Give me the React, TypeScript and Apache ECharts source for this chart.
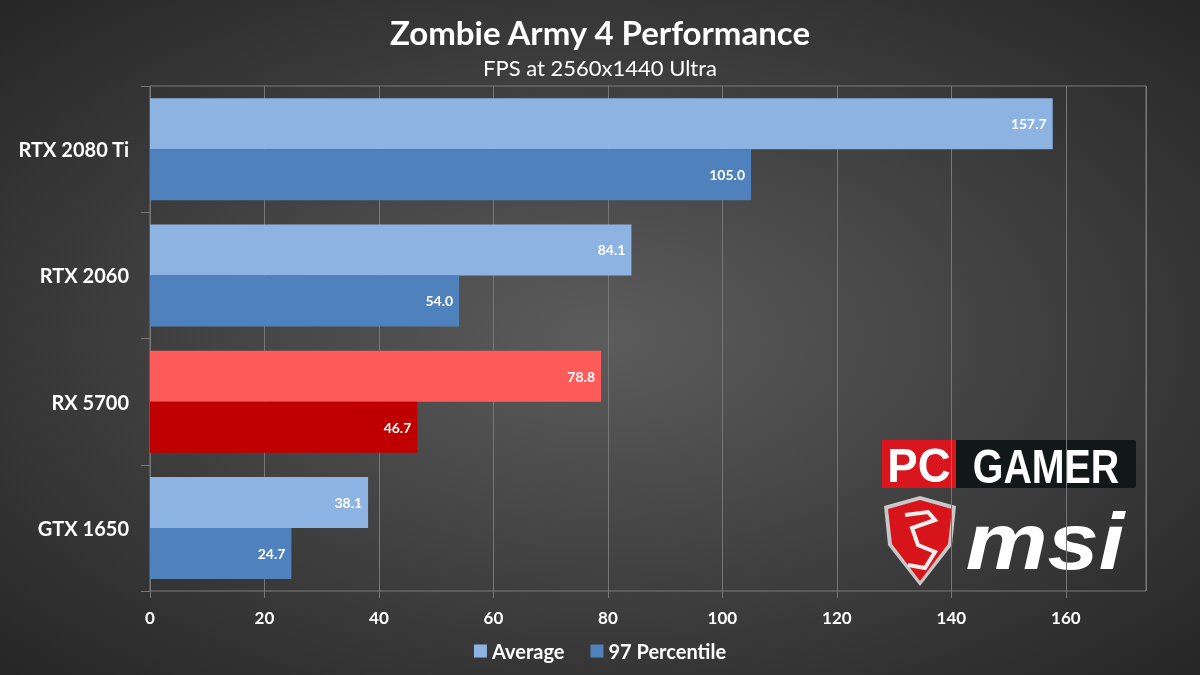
import React, { useEffect, useRef } from "react";
import * as echarts from "echarts";

const categories = ["RTX 2080 Ti", "RTX 2060", "RX 5700", "GTX 1650"];
const averageValues = [157.7, 84.1, 78.8, 38.1];
const percentileValues = [105.0, 54.0, 46.7, 24.7];
const highlightCategory = "RX 5700";
const xTicks = { min: 0, max: 174, interval: 20 };

export default function App() {
  const ref = useRef<HTMLDivElement>(null);
  useEffect(() => {
    const chart = echarts.init(ref.current!, null, { renderer: "svg" });
    const font = "Lato, 'Open Sans', sans-serif";
    const mk = (vals: number[], normal: string, hi: string) =>
      vals.map((v, i) => ({
        value: v,
        itemStyle: { color: categories[i] === highlightCategory ? hi : normal },
      }));
    const label = {
      show: true,
      position: "insideRight",
      color: "#fff",
      fontWeight: "bold",
      fontSize: 14,
      fontFamily: font,
      formatter: (p: any) => p.value.toFixed(1),
      distance: 6,
    };
    chart.setOption({
      animation: false,
      backgroundColor: "transparent",
      textStyle: { fontFamily: font },
      title: [
        { text: "Zombie Army 4 Performance", left: "center", top: 10, textStyle: { color: "#fff", fontSize: 33, fontWeight: "bold", fontFamily: font } },
        { text: "FPS at 2560x1440 Ultra", left: "center", top: 51, textStyle: { color: "#fff", fontSize: 22, fontWeight: "normal", fontFamily: font } },
      ],
      legend: {
        bottom: 9,
        left: "center",
        itemWidth: 13,
        itemHeight: 13,
        itemGap: 26,
        icon: "rect",
        textStyle: { color: "#fff", fontSize: 20, fontWeight: "bold", fontFamily: font },
        data: [
          { name: "Average", itemStyle: { color: "#8db3e2" } },
          { name: "97 Percentile", itemStyle: { color: "#4f81bd" } },
        ],
      },
      grid: { left: 150, right: 54, top: 86, bottom: 84, show: true, borderColor: "#7a7a7a", borderWidth: 1 },
      xAxis: {
        type: "value",
        min: xTicks.min,
        max: xTicks.max,
        interval: xTicks.interval,
        axisLabel: { color: "#fff", fontSize: 17, fontWeight: "bold", margin: 18, showMaxLabel: false },
        splitLine: { lineStyle: { color: "#777", width: 1 } },
        axisLine: { show: false },
        axisTick: { show: true, length: 7, lineStyle: { color: "#777" } },
      },
      yAxis: {
        type: "category",
        inverse: true,
        data: categories,
        axisLabel: { color: "#fff", fontSize: 20, fontWeight: "bold", margin: 21 },
        axisLine: { show: true, lineStyle: { color: "#777" } },
        axisTick: { show: true, length: 9, lineStyle: { color: "#777" } },
      },
      series: [
        { name: "Average", type: "bar", data: mk(averageValues, "#8db3e2", "#ff5b5b"), barWidth: 51, barGap: "0%", label, itemStyle: { color: "#8db3e2" } },
        { name: "97 Percentile", type: "bar", data: mk(percentileValues, "#4f81bd", "#c00000"), barWidth: 51, label, itemStyle: { color: "#4f81bd" } },
      ],
      graphic: [
        { type: "rect", shape: { x: 882, y: 440, width: 254, height: 48, r: 2 }, style: { fill: "#121818" } },
        { type: "rect", shape: { x: 882, y: 440, width: 74, height: 48 }, style: { fill: "#d9161d" } },
        { type: "text", x: 919, y: 466, scaleX: 0.95, style: { text: "PC", fill: "#fff", font: "bold 48px 'Liberation Sans', sans-serif", align: "center", verticalAlign: "middle" } },
        { type: "text", x: 1046, y: 466, scaleX: 0.82, style: { text: "GAMER", fill: "#fff", font: "bold 48px 'Liberation Sans', sans-serif", align: "center", verticalAlign: "middle" } },
        { type: "polygon", shape: { points: [[884, 506], [920, 496], [956, 506], [952, 545], [920, 586], [888, 545]] }, style: { fill: "#c8c8c8" } },
        { type: "polygon", shape: { points: [[888, 509], [920, 500], [952, 509], [948, 544], [920, 581], [892, 544]] }, style: { fill: "#d8141b" } },
        { type: "polyline", shape: { points: [[905, 515], [928, 512], [935, 520], [912, 528], [918, 545], [935, 552], [925, 568], [908, 565]] }, style: { stroke: "#eee", lineWidth: 4, fill: "none" } },
        { type: "text", x: 1045, y: 541, scaleX: 1.15, style: { text: "msi", fill: "#fff", font: "italic bold 80px 'Liberation Sans', sans-serif", align: "center", verticalAlign: "middle" } },
      ],
    });
    return () => chart.dispose();
  }, []);
  return (
    <div
      style={{
        position: "fixed",
        left: 0,
        top: 0,
        width: 1200,
        height: 675,
        background: "radial-gradient(ellipse at 50% 50%, #5c5c5c 0%, #3e3e3e 55%, #262626 100%)",
      }}
    >
      <div ref={ref} style={{ width: 1200, height: 675 }} />
    </div>
  );
}
